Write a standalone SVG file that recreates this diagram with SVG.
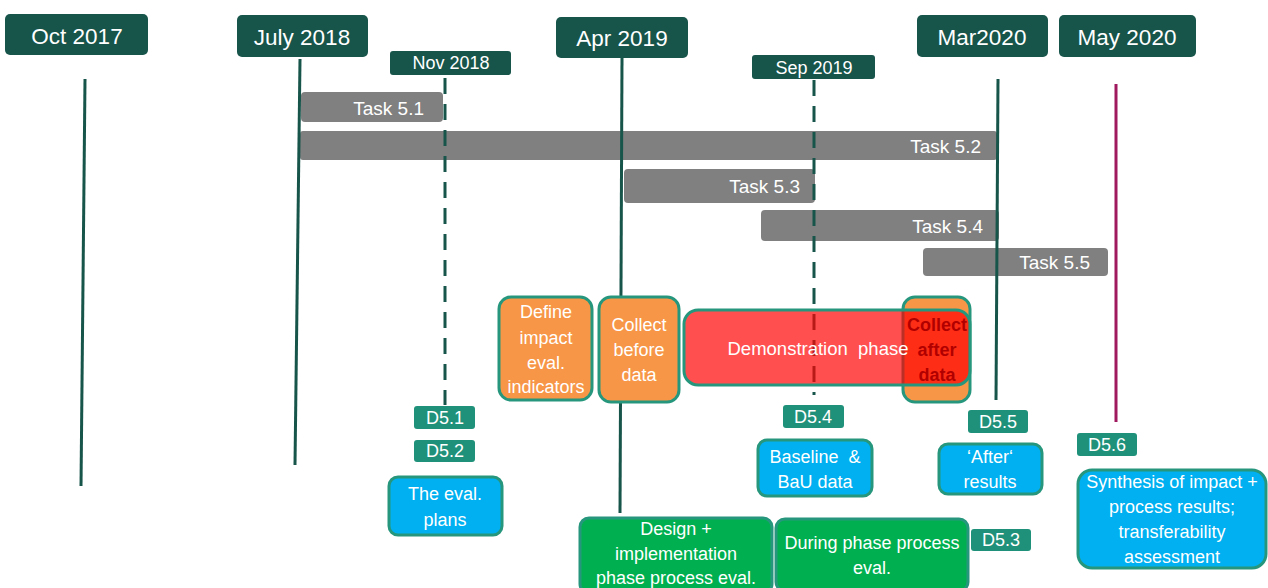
<svg xmlns="http://www.w3.org/2000/svg" width="1268" height="588" viewBox="0 0 1268 588">
<style>
text{font-family:"Liberation Sans",Arial,sans-serif;fill:#fff;text-anchor:middle;dominant-baseline:central}
.hdr{fill:#17544a}
.h1{font-size:22.5px}
.h2{font-size:18px}
.vl{stroke:#17544a;stroke-width:3;fill:none}
.dash{stroke-dasharray:16 10}
.task{fill:#808080}
.tt{font-size:19px;text-anchor:end}
.bx{stroke:#26977d;stroke-width:3}
.or{fill:#f79646}
.bl{fill:#00b0f0}
.gr{fill:#00b050}
.dl{fill:#1f917a}
.t18{font-size:18px}
</style>
<g id="headers">
<g id="h-oct2017"><rect class="hdr" x="5" y="14" width="143" height="41" rx="5"/><text class="h1" x="77" y="36">Oct 2017</text></g>
<g id="h-jul2018"><rect class="hdr" x="237" y="15" width="131" height="42" rx="5"/><text class="h1" x="302" y="37">July 2018</text></g>
<g id="h-nov2018"><rect class="hdr" x="390" y="51" width="121" height="24" rx="3"/><text class="h2" x="451" y="63">Nov 2018</text></g>
<g id="h-apr2019"><rect class="hdr" x="556" y="17" width="132" height="41" rx="5"/><text class="h1" x="622" y="38">Apr 2019</text></g>
<g id="h-sep2019"><rect class="hdr" x="752" y="55" width="123" height="24" rx="3"/><text class="h2" x="814" y="68">Sep 2019</text></g>
<g id="h-mar2020"><rect class="hdr" x="917" y="15" width="131" height="42" rx="5"/><text class="h1" x="982" y="37">Mar2020</text></g>
<g id="h-may2020"><rect class="hdr" x="1059" y="15" width="137" height="42" rx="5"/><text class="h1" x="1127" y="37">May 2020</text></g>
</g>
<g id="tasks">
<g id="task51"><rect class="task" x="301" y="92" width="142" height="30" rx="4"/><text class="tt" x="424" y="108">Task 5.1</text></g>
<g id="task52"><rect class="task" x="300" y="131" width="697" height="29" rx="3"/><text class="tt" x="981" y="146">Task 5.2</text></g>
<g id="task53"><rect class="task" x="624" y="169" width="191" height="34" rx="4"/><text class="tt" x="800" y="186">Task 5.3</text></g>
<g id="task54"><rect class="task" x="761" y="210" width="238" height="31" rx="4"/><text class="tt" x="983" y="226">Task 5.4</text></g>
<g id="task55"><rect class="task" x="923" y="248" width="185" height="28" rx="4"/><text class="tt" x="1090" y="262">Task 5.5</text></g>
</g>
<g id="connectors">
<line class="vl" x1="85" y1="79" x2="81" y2="486"/>
<line class="vl" x1="300" y1="59" x2="295" y2="465"/>
<line class="vl dash" x1="445" y1="78" x2="445" y2="405"/>
<line class="vl" x1="622" y1="58" x2="620" y2="513"/>
<line class="vl dash" x1="814" y1="80" x2="814" y2="395"/>
<line class="vl" x1="998" y1="79" x2="996" y2="400"/>
<line x1="1116" y1="84" x2="1116" y2="422" stroke="#a0195f" stroke-width="3"/>
</g>
<g id="define">
<rect class="bx or" x="499" y="297" width="93" height="103" rx="12"/>
<text class="t18" x="546" y="312">Define</text>
<text class="t18" x="546" y="338">impact</text>
<text class="t18" x="546" y="363">eval.</text>
<text class="t18" x="546" y="387">indicators</text>
</g>
<g id="collect-before">
<rect class="bx or" x="599" y="297" width="80" height="105" rx="12"/>
<text class="t18" x="639" y="325">Collect</text>
<text class="t18" x="639" y="350">before</text>
<text class="t18" x="639" y="375">data</text>
</g>
<g id="collect-after">
<rect class="bx or" x="903" y="297" width="67" height="105" rx="12"/>
<text class="t18" x="937" y="325" style="fill:#000;font-weight:bold">Collect</text>
<text class="t18" x="937" y="350" style="fill:#000;font-weight:bold">after</text>
<text class="t18" x="937" y="375" style="fill:#000;font-weight:bold">data</text>
</g>
<g id="demonstration">
<rect x="684" y="310" width="286" height="75" rx="14" fill="#ff0000" fill-opacity="0.69" stroke="#26977d" stroke-width="3"/>
<text x="818" y="348" style="font-size:18.5px" xml:space="preserve">Demonstration  phase</text>
</g>
<g id="deliverables">
<g id="d51"><rect class="dl" x="414" y="406" width="61" height="23" rx="3"/><text class="t18" x="445" y="418">D5.1</text></g>
<g id="d52"><rect class="dl" x="414" y="440" width="61" height="22" rx="3"/><text class="t18" x="445" y="451">D5.2</text></g>
<g id="d54"><rect class="dl" x="783" y="405" width="61" height="23" rx="3"/><text class="t18" x="813" y="417">D5.4</text></g>
<g id="d55"><rect class="dl" x="968" y="410" width="60" height="23" rx="3"/><text class="t18" x="998" y="422">D5.5</text></g>
<g id="d56"><rect class="dl" x="1077" y="433" width="60" height="23" rx="3"/><text class="t18" x="1107" y="445">D5.6</text></g>
<g id="d53"><rect class="dl" x="971" y="529" width="60" height="22" rx="3"/><text class="t18" x="1001" y="540">D5.3</text></g>
</g>
<g id="eval-plans">
<rect class="bx bl" x="389" y="477" width="113" height="58" rx="9"/>
<text class="t18" x="445" y="494">The eval.</text>
<text class="t18" x="445" y="520">plans</text>
</g>
<g id="baseline">
<rect class="bx bl" x="758" y="440" width="114" height="56" rx="9"/>
<text class="t18" x="815" y="457" xml:space="preserve">Baseline  &amp;</text>
<text class="t18" x="815" y="482">BaU data</text>
</g>
<g id="after-results">
<rect class="bx bl" x="939" y="444" width="103" height="50" rx="9"/>
<text class="t18" x="990" y="457">‘After‘</text>
<text class="t18" x="990" y="482">results</text>
</g>
<g id="synthesis">
<rect class="bx bl" x="1078" y="470" width="188" height="98" rx="14"/>
<text class="t18" x="1172" y="482">Synthesis of impact +</text>
<text class="t18" x="1172" y="507">process results;</text>
<text class="t18" x="1172" y="532">transferability</text>
<text class="t18" x="1172" y="557">assessment</text>
</g>
<g id="design-impl">
<rect class="bx gr" x="580" y="518" width="192" height="75" rx="9"/>
<text class="t18" x="676" y="529">Design +</text>
<text class="t18" x="676" y="554">implementation</text>
<text class="t18" x="676" y="578">phase process eval.</text>
</g>
<g id="during-phase">
<rect class="bx gr" x="776" y="519" width="192" height="72" rx="9"/>
<text class="t18" x="872" y="543">During phase process</text>
<text class="t18" x="872" y="568">eval.</text>
</g>
</svg>
